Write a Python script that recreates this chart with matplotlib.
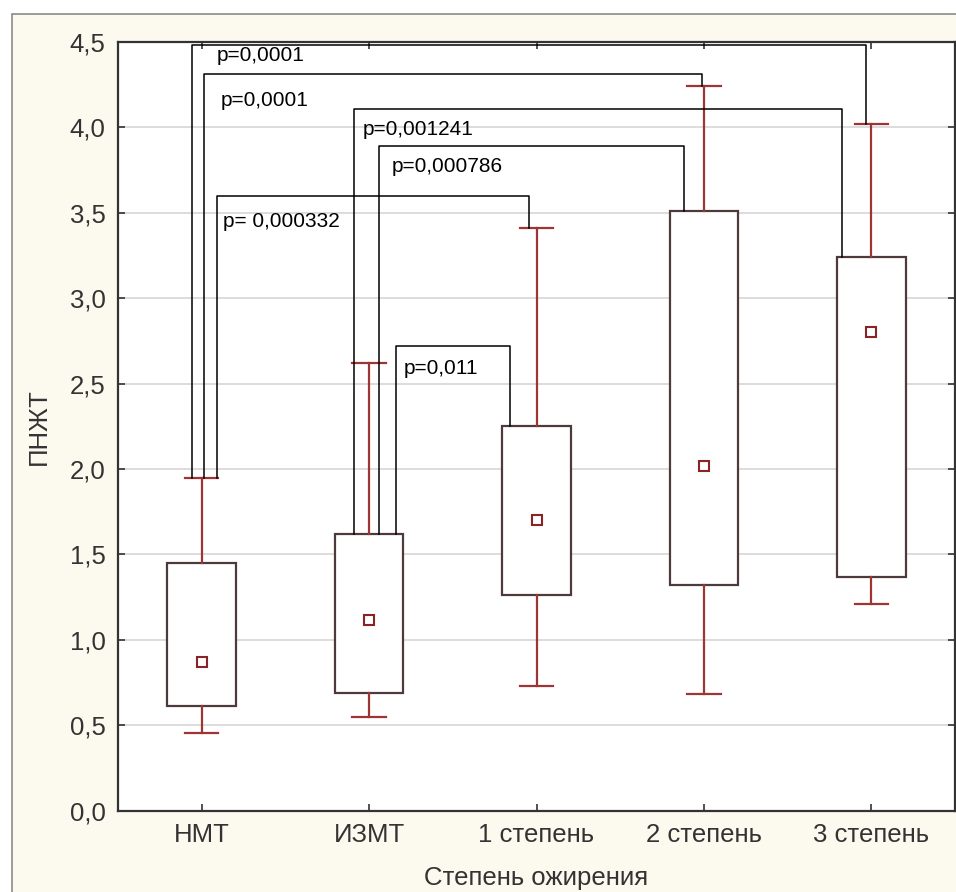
import matplotlib
matplotlib.use("Agg")
import matplotlib.pyplot as plt
import numpy as np
from matplotlib.patches import Rectangle

plt.rcParams['font.family'] = ['Liberation Sans', 'DejaVu Sans']

# Группы и описательная статистика ПНЖТ (медиана, квартили, мин-макс)
groups = ['НМТ', 'ИЗМТ', '1 степень', '2 степень', '3 степень']
medians = [0.87, 1.115, 1.70, 2.02, 2.80]
q1 = [0.615, 0.69, 1.26, 1.32, 1.37]
q3 = [1.45, 1.62, 2.25, 3.51, 3.24]
mins = [0.455, 0.548, 0.728, 0.686, 1.21]
maxs = [1.95, 2.62, 3.41, 4.24, 4.02]

# Попарные сравнения: (группа 1, группа 2, p)
pairs = [(0, 4), (0, 3), (1, 4), (1, 3), (0, 2), (1, 2)]
p_labels = ['p=0,0001', 'p=0,0001', 'p=0,001241', 'p=0,000786', 'p= 0,000332', 'p=0,011']

# Оформление скобок: высота, смещения концов, куда опускается конец ('w' - ус, 'b' - ящик)
br_top = [4.48, 4.31, 4.11, 3.89, 3.60, 2.72]
br_dx = [(-0.058, -0.033), (0.014, -0.01), (-0.093, -0.175), (0.06, -0.117), (0.09, -0.044), (0.16, -0.158)]
br_end = [('w', 'w'), ('w', 'w'), ('b', 'b'), ('b', 'b'), ('w', 'w'), ('b', 'b')]
txt_pos = [(0.091, 4.42), (0.115, 4.16), (-0.037, 3.99), (0.137, 3.77), (0.127, 3.45), (0.208, 2.59)]

box_col = '#4e3a3a'
whisk_col = '#9e3535'
med_col = '#8a2424'

fig = plt.figure(figsize=(9.56, 8.92), dpi=100, facecolor='white')
# кремовая подложка с рамкой
fig.patches.append(Rectangle((11.5 / 956, -0.05), 1.0, 1.05 - 14 / 892,
                             transform=fig.transFigure, facecolor='#fcf9ef',
                             edgecolor='#8a8a8a', lw=1.2, zorder=-10))

ax = fig.add_axes([118 / 956, 1 - 810.7 / 892, 837 / 956, 768.7 / 892])
ax.set_facecolor('white')

pos = np.arange(len(groups))
stats = []
for i in range(len(groups)):
    stats.append({'med': medians[i], 'q1': q1[i], 'q3': q3[i],
                  'whislo': mins[i], 'whishi': maxs[i], 'fliers': []})

ax.bxp(stats, positions=pos, widths=0.41, capwidths=0.2, patch_artist=True,
       showfliers=False,
       boxprops=dict(facecolor='white', edgecolor=box_col, lw=1.6),
       whiskerprops=dict(color=whisk_col, lw=1.6),
       capprops=dict(color=whisk_col, lw=1.6),
       medianprops=dict(linewidth=0))
ax.plot(pos, medians, 's', ms=7, mfc='white', mec=med_col, mew=1.5,
        linestyle='none', zorder=4)

# скобки с уровнями значимости
for k, (a, b) in enumerate(pairs):
    xa = a + br_dx[k][0]
    xb = b + br_dx[k][1]
    ya = maxs[a] if br_end[k][0] == 'w' else q3[a]
    yb = maxs[b] if br_end[k][1] == 'w' else q3[b]
    ax.plot([xa, xa, xb, xb], [ya, br_top[k], br_top[k], yb],
            color='black', lw=1.1, zorder=3)
    ax.text(a + txt_pos[k][0], txt_pos[k][1], p_labels[k], fontsize=15,
            ha='left', va='center', color='black', zorder=5)

ax.set_xlim(-0.5, 4.5)
ax.set_ylim(0, 4.5)
yt = np.arange(0, 4.51, 0.5)
ax.set_yticks(yt)
ax.set_yticklabels([f'{v:.1f}'.replace('.', ',') for v in yt])
ax.set_xticks(pos)
ax.set_xticklabels(groups)

ax.set_axisbelow(True)
ax.yaxis.grid(True, color='#d9d9d9', lw=1.3)
ax.tick_params(direction='in', length=5, width=1.2, top=True, right=True,
               color='#333333', labelcolor='#333333', labelsize=18.5, pad=9)
for s in ax.spines.values():
    s.set_color('#333333')
    s.set_linewidth(1.6)

ax.set_ylabel('ПНЖТ', fontsize=18.5, color='#333333', va='center')
ax.yaxis.set_label_coords(-0.094, 0.5)
ax.set_xlabel('Степень ожирения', fontsize=18.5, color='#333333', va='baseline')
ax.xaxis.set_label_coords(0.5, -0.097)

fig.savefig('out.png', dpi=100, facecolor=fig.get_facecolor())
